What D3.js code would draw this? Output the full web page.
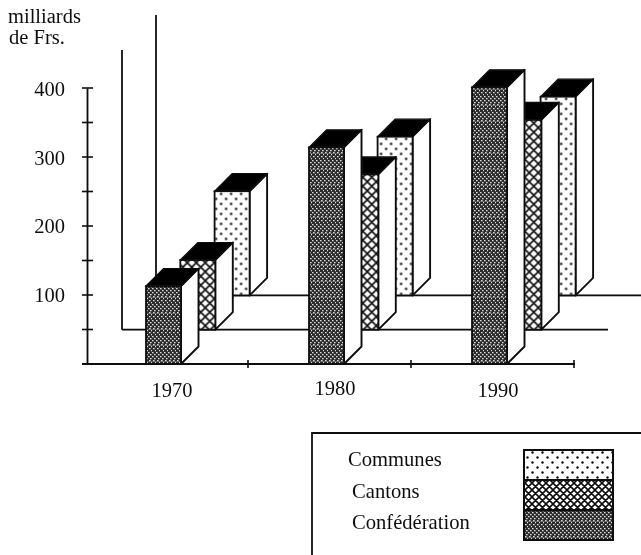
<!DOCTYPE html>
<html>
<head>
<meta charset="utf-8">
<style>
html,body{margin:0;padding:0;background:#fff;overflow:hidden}
svg{display:block}
text{font-family:"Liberation Serif",serif;fill:#111}
</style>
<script src="https://cdnjs.cloudflare.com/ajax/libs/d3/7.8.5/d3.min.js"></script>
</head>
<body>
<script>
const years = [1970, 1980, 1990];
const confederation = [113, 314, 401];
const cantons = [101, 225, 304];
const communes = [151, 230, 288];
const yTickLabels = [100, 200, 300, 400];
const yMinorTicks = [50, 150, 250, 350];
const legendOrder = ["Communes", "Cantons", "Confédération"];

const W = 641, H = 555;
const svg = d3.select("body").append("svg").attr("width", W).attr("height", H);
const ink = "#0c0c0c";

const y = d3.scaleLinear().domain([0, 400]).range([364, 88]);
const x = d3.scaleLinear().domain([1970, 1990]).range([146, 472]);
const barW = 35, depth = 17.5, stepBack = 34.3;

const defs = svg.append("defs");
function pattern(id, w, h, draw, bg) {
  const p = defs.append("pattern").attr("id", id).attr("patternUnits", "userSpaceOnUse")
    .attr("width", w).attr("height", h);
  p.append("rect").attr("width", w).attr("height", h).attr("fill", bg);
  draw(p);
}
pattern("pCommunes", 10, 10, p => {
  p.append("circle").attr("cx", 2.5).attr("cy", 2.5).attr("r", 1.2).attr("fill", ink);
  p.append("circle").attr("cx", 7.5).attr("cy", 7.5).attr("r", 1.2).attr("fill", ink);
}, "#fff");
pattern("pCantons", 9, 9, p => {
  p.append("path").attr("d", "M-1,1L1,-1M0,9L9,0M8,10L10,8M-1,8L1,10M0,0L9,9M8,-1L10,1")
    .attr("stroke", ink).attr("stroke-width", 1.6);
}, "#fff");
pattern("pCantonsSmall", 7, 7, p => {
  p.append("path").attr("d", "M-1,1L1,-1M0,7L7,0M6,8L8,6M-1,6L1,8M0,0L7,7M6,-1L8,1")
    .attr("stroke", ink).attr("stroke-width", 1.6);
}, "#fff");
pattern("pConf", 4, 16, p => {
  [[0,0],[2,2],[0,4],[2,6],[1,8],[3,10],[1,12],[3,14]].forEach(([a, b]) =>
    p.append("rect").attr("x", a).attr("y", b).attr("width", 1.6).attr("height", 1.3).attr("fill", "#d8d8d8"));
  p.append("rect").attr("x", 0).attr("y", 9).attr("width", 4).attr("height", 1).attr("fill", "#8a8a8a").attr("opacity", 0.55);
}, "#2c2c2c");
const fills = {"Confédération": "url(#pConf)", "Cantons": "url(#pCantons)", "Communes": "url(#pCommunes)"};
const legendFills = {"Confédération": "url(#pConf)", "Cantons": "url(#pCantonsSmall)", "Communes": "url(#pCommunes)"};

const blur = defs.append("filter").attr("id", "soft");
blur.append("feGaussianBlur").attr("stdDeviation", 0.4);
const g = svg.append("g").attr("filter", "url(#soft)");

const base = y(0);
const line = (x1, y1, x2, y2, sw = 1.8) => g.append("line")
  .attr("x1", x1).attr("y1", y1).attr("x2", x2).attr("y2", y2)
  .attr("stroke", ink).attr("stroke-width", sw);
line(122, 50, 122, base - stepBack);
line(122, base - stepBack, 608, base - stepBack);
line(156, 15, 156, base - 2 * stepBack);
line(156, base - 2 * stepBack, 641, base - 2 * stepBack);

const yAxis = d3.axisLeft(y).tickValues(yTickLabels.concat(yMinorTicks)).tickSize(0).tickFormat("");
const ya = g.append("g").attr("transform", "translate(87,0)").call(yAxis);
ya.select(".domain").attr("stroke", ink).attr("stroke-width", 1.8);
g.selectAll(".yt").data(yTickLabels.concat(yMinorTicks)).join("line").attr("class", "yt")
  .attr("x1", 82).attr("x2", 93).attr("y1", d => y(d)).attr("y2", d => y(d))
  .attr("stroke", ink).attr("stroke-width", 1.6);
line(82, base, 575, base, 2.2);
g.selectAll(".xt").data(years).join("line").attr("class", "xt")
  .attr("x1", d => x(d) + 102).attr("x2", d => x(d) + 102)
  .attr("y1", base - 4).attr("y2", base + 4)
  .attr("stroke", ink).attr("stroke-width", 1.6);

const rows = [
  {name: "Communes", values: communes, k: 2},
  {name: "Cantons", values: cantons, k: 1},
  {name: "Confédération", values: confederation, k: 0}
];
rows.forEach(r => {
  const gr = g.append("g").attr("transform", `translate(${r.k * stepBack},${-r.k * stepBack})`);
  const bars = gr.selectAll("g").data(r.values.map((v, i) => ({v, year: years[i]}))).join("g");
  bars.append("path")
    .attr("d", d => {
      const l = x(d.year) + barW, t = y(d.v), b = y(0);
      return `M${l},${t}L${l + depth},${t - depth}L${l + depth},${b - depth}L${l},${b}Z`;
    }).attr("fill", "#fff").attr("stroke", ink).attr("stroke-width", 1.9).attr("stroke-linejoin", "round");
  bars.append("path")
    .attr("d", d => {
      const l = x(d.year), t = y(d.v);
      return `M${l},${t}L${l + depth},${t - depth}L${l + barW + depth},${t - depth}L${l + barW},${t}Z`;
    }).attr("fill", "#050505").attr("stroke", ink).attr("stroke-width", 1.2);
  bars.append("rect")
    .attr("x", d => x(d.year)).attr("y", d => y(d.v))
    .attr("width", barW).attr("height", d => y(0) - y(d.v))
    .attr("fill", fills[r.name]).attr("stroke", ink).attr("stroke-width", 1.8);
});

const legendLeft = 312, legendTop = 433;
g.append("path").attr("d", `M${W},${legendTop}H${legendLeft}V${H}`)
  .attr("fill", "none").attr("stroke", ink).attr("stroke-width", 1.8);
const swatch = d3.scaleBand().domain(legendOrder).range([450, 540]);
g.selectAll(".sw").data(legendOrder).join("rect").attr("class", "sw")
  .attr("x", 524).attr("width", 89)
  .attr("y", d => swatch(d)).attr("height", swatch.bandwidth())
  .attr("fill", d => legendFills[d]).attr("stroke", ink).attr("stroke-width", 2);

const t = svg.append("g").attr("filter", "url(#soft)");
const label = (s, px, py, anchor = "start", size = 20) => t.append("text")
  .attr("x", px).attr("y", py).attr("text-anchor", anchor).attr("font-size", size).text(s);
label("milliards", 8, 23, "start", 20.5);
label("de Frs.", 9, 44, "start", 20.5);
yTickLabels.forEach((v, i) => label(v, 65, y(v) + [7, 7, 8, 8][i], "end", 20.5));
years.forEach((yr, i) => label(yr, x(yr) + 26, [397, 395, 397][i], "middle", 20.5));
[["Communes", 348, 466], ["Cantons", 352, 498], ["Confédération", 352, 529]]
  .forEach(([s, a, b]) => label(s, a, b, "start", 20.6));
</script>
</body>
</html>
